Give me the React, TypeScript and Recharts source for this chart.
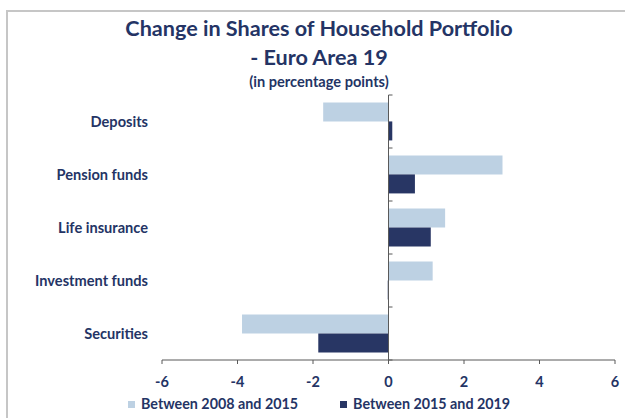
import { BarChart, Bar, XAxis, YAxis, ReferenceLine, Legend } from 'recharts';

const categories = ['Deposits', 'Pension funds', 'Life insurance', 'Investment funds', 'Securities'];
const between2008and2015 = [-1.73, 3.02, 1.5, 1.17, -3.88];
const between2015and2019 = [0.1, 0.7, 1.12, -0.02, -1.86];
const xTicks = [-6, -4, -2, 0, 2, 4, 6];

const seriesNames = ['Between 2008 and 2015', 'Between 2015 and 2019'];
const colors = ['#BDD1E3', '#283664'];
const navy = '#243465';
const axisGrey = '#595959';
const font = 'Lato, sans-serif';

const data = categories.map((name, i) => ({
  name,
  a: between2008and2015[i],
  b: between2015and2019[i],
}));

// vertical axis at x=0 with small tick marks at the category boundaries
function ZeroAxis(props: any) {
  const { x1, y1, x2, y2 } = props;
  const n = categories.length;
  const marks = [];
  for (let k = 0; k <= n; k++) {
    const y = y1 + ((y2 - y1) * k) / n;
    marks.push(<line key={k} x1={x1} x2={x1 + 4} y1={y} y2={y} stroke={axisGrey} strokeWidth={1} />);
  }
  return (
    <g>
      <line x1={x1} y1={y1} x2={x2} y2={y2} stroke={axisGrey} strokeWidth={1} />
      {marks}
    </g>
  );
}

function LegendBox() {
  return (
    <div style={{ display: 'flex', alignItems: 'center', fontFamily: font, fontWeight: 700, fontSize: 14.3, color: navy }}>
      {seriesNames.map((s, i) => (
        <div key={s} style={{ display: 'flex', alignItems: 'center', marginRight: i === 0 ? 42 : 0 }}>
          <span style={{ width: 7, height: 7, background: colors[i], display: 'inline-block', marginRight: 6, marginTop: 2 }} />
          <span>{s}</span>
        </div>
      ))}
    </div>
  );
}

export default function App() {
  return (
    <div style={{ position: 'relative', width: 625, height: 418, background: '#fff', overflow: 'hidden' }}>
      <style>{'body{margin:0}'}</style>
      <div style={{ position: 'absolute', left: 6, top: 10, width: 700, height: 500, borderLeft: '2px solid #c6c6c6', borderTop: '2px solid #c6c6c6' }} />
      <div style={{ position: 'absolute', left: 0, width: 638, top: 14, textAlign: 'center', fontFamily: font, fontWeight: 700, color: navy, fontSize: 21.6, lineHeight: '29px' }}>
        <div>Change in Shares of Household Portfolio</div>
        <div>- Euro Area 19</div>
        <div style={{ fontSize: 14.6, lineHeight: '20px' }}>(in percentage points)</div>
      </div>
      <div style={{ position: 'absolute', left: 0, top: 0 }}>
        <BarChart
          width={625}
          height={418}
          data={data}
          layout="vertical"
          margin={{ top: 95, right: 10, bottom: 28, left: 0 }}
          barCategoryGap="14%"
          barGap={0}
        >
          <XAxis
            type="number"
            domain={[-6, 6]}
            ticks={xTicks}
            height={30}
            axisLine={{ stroke: axisGrey }}
            tickLine={{ stroke: axisGrey }}
            tickSize={4}
            tickMargin={13}
            tick={{ fill: navy, fontFamily: font, fontWeight: 700, fontSize: 14.5 }}
          />
          <YAxis
            type="category"
            dataKey="name"
            width={162}
            axisLine={false}
            tickLine={false}
            tickSize={0}
            tickMargin={14}
            tick={{ fill: navy, fontFamily: font, fontWeight: 700, fontSize: 14.6 }}
          />
          <Bar dataKey="a" name={seriesNames[0]} fill={colors[0]} isAnimationActive={false} />
          <Bar dataKey="b" name={seriesNames[1]} fill={colors[1]} isAnimationActive={false} />
          <ReferenceLine x={0} shape={ZeroAxis} />
          <Legend
            layout="horizontal"
            verticalAlign="middle"
            align="center"
            content={() => <LegendBox />}
            wrapperStyle={{ position: 'absolute', top: 395, left: 128, width: 'auto' }}
          />
        </BarChart>
      </div>
    </div>
  );
}
